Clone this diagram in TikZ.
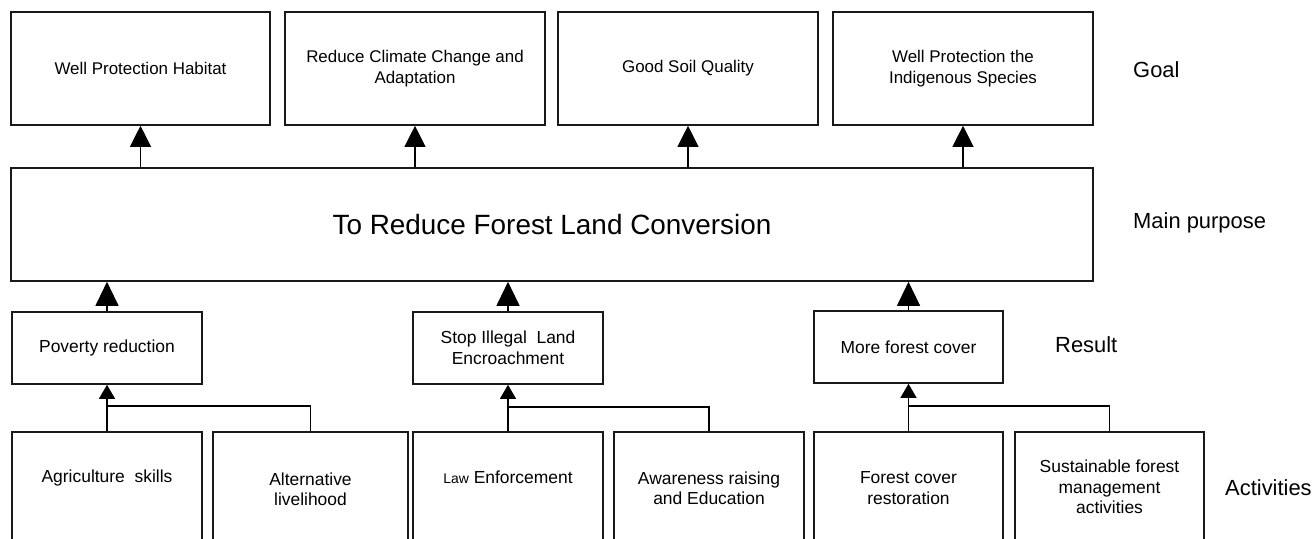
\documentclass[tikz,border=0pt]{standalone}
\usepackage{fontspec}
\setmainfont{Liberation Sans}
\usetikzlibrary{arrows.meta}
\begin{document}
\begin{tikzpicture}[x=1bp,y=-1bp,
  box/.style={draw=black!90, line width=1.6bp, inner sep=0pt, align=center,
    font=\fontsize{17}{21.5}\selectfont},
  link/.style={line width=1.1bp, draw=black},
  bigtip/.style={link, -{Triangle[width=21bp,length=21bp]}},
  midtip/.style={link, -{Triangle[width=23bp,length=24bp]}},
  smalltip/.style={link, -{Triangle[width=16bp,length=14bp]}},
  acttext/.style={align=center, inner sep=0pt, font=\fontsize{17.5}{20.5}\selectfont},
  side/.style={anchor=west, inner sep=0pt, font=\fontsize{22}{26}\selectfont},
]
\clip (0,0) rectangle (1314,539);

% goal row
\node[box, minimum width=259bp, minimum height=113bp] (g1) at (140.5,68.5) {Well Protection Habitat};
\node[box, minimum width=260bp, minimum height=113bp] (g2) at (415,68.5) {Reduce Climate Change and\\Adaptation};
\node[box, minimum width=260bp, minimum height=113bp] (g3) at (688,68.5) {Good Soil Quality};
\node[box, minimum width=260bp, minimum height=113bp] (g4) at (963,68.5) {Well Protection the\\Indigenous Species};

% main purpose
\node[box, minimum width=1082bp, minimum height=113bp, font=\fontsize{28}{32}\selectfont] (main) at (552,224.5) {To Reduce Forest Land Conversion};

% result row
\node[box, minimum width=190bp, minimum height=72bp, font=\fontsize{17.5}{21}\selectfont] (pov) at (107,348) {Poverty reduction};
\node[box, minimum width=190bp, minimum height=72bp, font=\fontsize{17.5}{21}\selectfont] (stop) at (508,348) {Stop Illegal\ \ Land\\Encroachment};
\node[box, minimum width=189bp, minimum height=72bp, font=\fontsize{17.5}{21}\selectfont] (more) at (908.5,347) {More forest cover};

% activity row
\node[box, minimum width=190bp, minimum height=138bp] (agri) at (107,501) {};
\node[box, minimum width=195bp, minimum height=138bp] (alt) at (310.5,501) {};
\node[box, minimum width=190bp, minimum height=138bp] (law) at (508,501) {};
\node[box, minimum width=190bp, minimum height=138bp] (aware) at (709,501) {};
\node[box, minimum width=189bp, minimum height=138bp] (rest) at (908.5,501) {};
\node[box, minimum width=189bp, minimum height=138bp] (sust) at (1109.5,501) {};

\node[acttext] (t-agri) at (107,478) {Agriculture\ \ skills};
\node[acttext] (t-alt) at (310.5,489) {Alternative\\livelihood};
\node[acttext] (t-law) at (508,477) {{\fontsize{14}{17}\selectfont Law} Enforcement};
\node[acttext] (t-aware) at (709,488) {Awareness raising\\and Education};
\node[acttext] (t-rest) at (908.5,488) {Forest cover\\restoration};
\node[acttext] (t-sust) at (1109.5,487) {Sustainable forest\\management\\activities};

% level labels
\node[side] (l-goal) at (1133,70) {Goal};
\node[side] (l-main) at (1133,223) {Main purpose};
\node[side] (l-res) at (1055,345) {Result};
\node[side] (l-act) at (1225,488) {Activities};

% main purpose -> goals
\draw[bigtip] (main.north -| g1.south) -- (g1.south);
\draw[bigtip] (main.north -| g2.south) -- (g2.south);
\draw[bigtip] (main.north -| g3.south) -- (g3.south);
\draw[bigtip] (main.north -| g4.south) -- (g4.south);

% results -> main purpose
\draw[midtip] (pov.north) -- (main.south -| pov.north);
\draw[midtip] (stop.north) -- (main.south -| stop.north);
\draw[midtip] (more.north) -- (main.south -| more.north);

% activities -> results
\coordinate (j1) at (107,406);
\coordinate (j2) at (508,407);
\coordinate (j3) at (908.5,406);
\draw[smalltip] (agri.north) -- (pov.south);
\draw[link] (alt.north) |- (j1);
\draw[smalltip] (law.north) -- (stop.south);
\draw[link] (aware.north) |- (j2);
\draw[smalltip] (rest.north) -- (more.south);
\draw[link] (sust.north) |- (j3);
\end{tikzpicture}
\end{document}
